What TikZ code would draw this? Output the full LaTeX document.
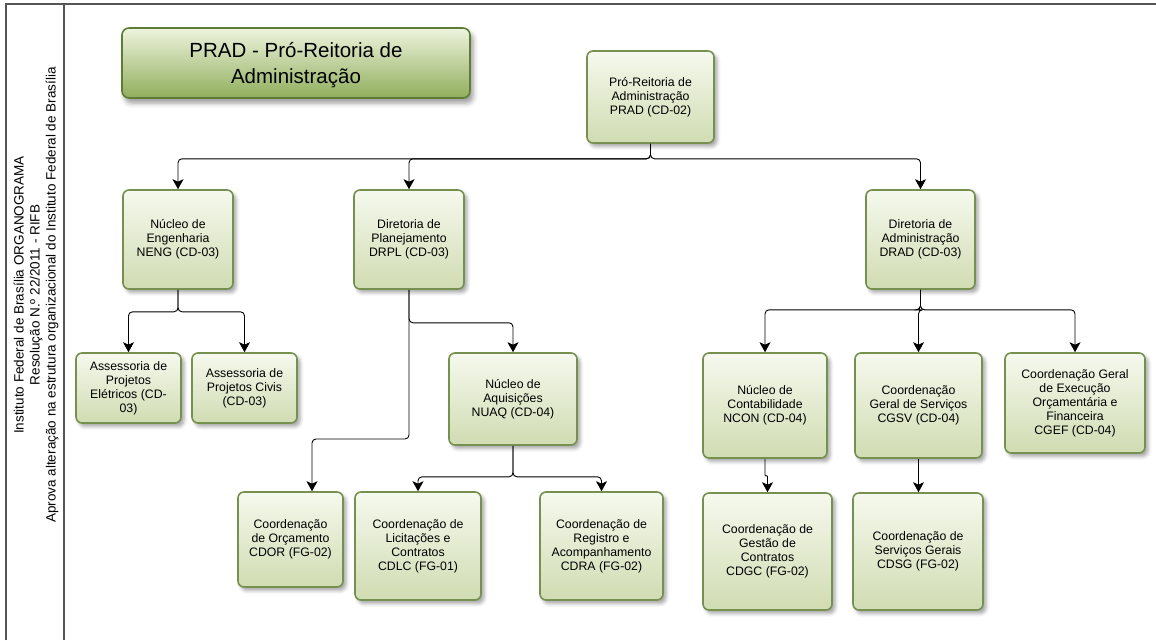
\documentclass[tikz,border=0pt]{standalone}
\usepackage{fontspec}
\setmainfont{Liberation Sans}
\usetikzlibrary{arrows.meta,shadows.blur}
\definecolor{boxborder}{HTML}{75904F}
\definecolor{boxtop}{HTML}{F6F9EE}
\definecolor{boxbot}{HTML}{D0DCB2}
\definecolor{titletop}{HTML}{EEF4DE}
\definecolor{titlebot}{HTML}{90AE5C}
\definecolor{titleborder}{HTML}{5F7C36}
\definecolor{framecol}{HTML}{555555}
\tikzset{
  orgbox/.style={draw=boxborder, line width=1.6pt, rounded corners=6pt,
    top color=boxtop, bottom color=boxbot, align=center, inner sep=2pt,
    font=\fontsize{12.3}{14}\selectfont,
    blur shadow={shadow xshift=3pt, shadow yshift=-3.5pt, shadow blur radius=3.5pt, shadow opacity=35}},
  titlebox/.style={draw=titleborder, line width=1.6pt, rounded corners=7pt,
    top color=titletop, bottom color=titlebot, align=center,
    font=\fontsize{20.5}{26}\selectfont,
    blur shadow={shadow xshift=3pt, shadow yshift=-5pt, shadow blur radius=5pt, shadow opacity=40}},
  conn/.style={draw=black, line width=0.9pt, rounded corners=4pt,
    -{Stealth[length=10pt, width=11pt, inset=2.5pt]}},
  framel/.style={draw=framecol, line width=1.1pt}
}
\begin{document}
\begin{tikzpicture}[x=1pt, y=-1pt]
\useasboundingbox (0,0) rectangle (1156,640);
% frame
\coordinate (ftl) at (6,4);
\coordinate (ftr) at (1156,4);
\coordinate (fbl) at (6,640);
\coordinate (stop) at (64,4);
\coordinate (sbot) at (64,640);
\draw[framel] (fbl) -- (ftl) -- (ftr);
\draw[framel] (stop) -- (sbot);
% side text
\node[rotate=90, align=center, font=\fontsize{13.5}{16}\selectfont, inner sep=0pt] (side) at (36,295)
  {Instituto Federal de Brasília ORGANOGRAMA\\Resolução N.º 22/2011 - RIFB\\Aprova alteração na estrutura organizacional do Instituto Federal de Brasília};
% title
\node[titlebox, minimum width=348pt, minimum height=70pt] (title) at (296,63)
  {\rule{0pt}{20pt}PRAD - Pró-Reitoria de\\Administração};
% boxes
\node[orgbox, minimum width=127pt, minimum height=92pt] (prad) at (650.5,97)
  {Pró-Reitoria de\\Administração\\PRAD (CD-02)};
\node[orgbox, minimum width=110pt, minimum height=99pt] (neng) at (178,239.5)
  {Núcleo de\\Engenharia\\NENG (CD-03)};
\node[orgbox, minimum width=110pt, minimum height=99pt] (drpl) at (409,239.5)
  {Diretoria de\\Planejamento\\DRPL (CD-03)};
\node[orgbox, minimum width=109pt, minimum height=99pt] (drad) at (920.5,239.5)
  {Diretoria de\\Administração\\DRAD (CD-03)};
\node[orgbox, minimum width=105pt, minimum height=70pt] (ase) at (128.5,388)
  {Assessoria de\\Projetos\\Elétricos (CD-\\03)};
\node[orgbox, minimum width=105pt, minimum height=70pt] (asc) at (244.5,388)
  {Assessoria de\\Projetos Civis\\(CD-03)};
\node[orgbox, minimum width=128pt, minimum height=92pt] (nuaq) at (513,399)
  {Núcleo de\\Aquisições\\NUAQ (CD-04)};
\node[orgbox, minimum width=105pt, minimum height=95pt] (cdor) at (290.5,539.5)
  {Coordenação\\de Orçamento\\CDOR (FG-02)};
\node[orgbox, minimum width=126pt, minimum height=108pt] (cdlc) at (418,546)
  {Coordenação de\\Licitações e\\Contratos\\CDLC (FG-01)};
\node[orgbox, minimum width=123pt, minimum height=108pt] (cdra) at (601.5,546)
  {Coordenação de\\Registro e\\Acompanhamento\\CDRA (FG-02)};
\node[orgbox, minimum width=124pt, minimum height=105pt] (ncon) at (765,405.5)
  {Núcleo de\\Contabilidade\\NCON (CD-04)};
\node[orgbox, minimum width=127pt, minimum height=105pt] (cgsv) at (918.5,405.5)
  {Coordenação\\Geral de Serviços\\CGSV (CD-04)};
\node[orgbox, minimum width=140pt, minimum height=100pt] (cgef) at (1075,403)
  {Coordenação Geral\\de Execução\\Orçamentária e\\Financeira\\CGEF (CD-04)};
\node[orgbox, minimum width=129pt, minimum height=117pt] (cdgc) at (767.5,551.5)
  {Coordenação de\\Gestão de\\Contratos\\CDGC (FG-02)};
\node[orgbox, minimum width=130pt, minimum height=117pt] (cdsg) at (918,551.5)
  {Coordenação de\\Serviços Gerais\\CDSG (FG-02)};
% connectors
\draw[conn] (prad.south) -- ++(0,15) -| (neng.north);
\draw[conn] (prad.south) -- ++(0,15) -| (drpl.north);
\draw[conn] (prad.south) -- ++(0,15) -| (drad.north);
\draw[conn] (neng.south) -- ++(0,22) -| (ase.north);
\draw[conn] (neng.south) -- ++(0,22) -| (asc.north);
\draw[conn] (drpl.south) -- ++(0,33) -| (nuaq.north);
\coordinate (jor) at (312,439);
\draw[conn] (drpl.south) |- (jor) -- (jor |- cdor.north);
\draw[conn] (nuaq.south) -- ++(0,31) -| (cdlc.north);
\draw[conn] (nuaq.south) -- ++(0,31) -| (cdra.north);
\draw[conn] (drad.south) -- ++(0,20) -| (ncon.north);
\draw[conn] (drad.south) -- ++(0,20) -| (cgsv.north);
\draw[conn] (drad.south) -- ++(0,20) -| (cgef.north);
\draw[conn, rounded corners=0.8pt] (ncon.south) -- ++(0,17) -| (cdgc.north);
\draw[conn] (cgsv.south) -- (cgsv.south |- cdsg.north);
\end{tikzpicture}
\end{document}
